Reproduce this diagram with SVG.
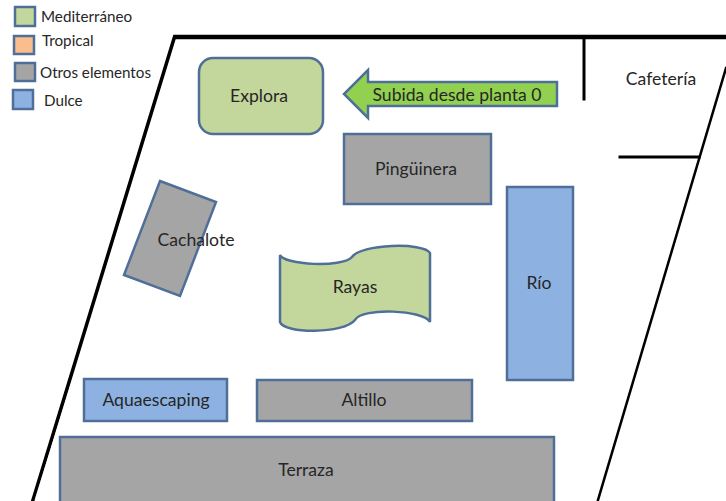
<svg xmlns="http://www.w3.org/2000/svg" width="726" height="501" viewBox="0 0 726 501">
<style>
text{font-family:"Lato","Open Sans","Liberation Sans",sans-serif;font-size:17.6px;fill:#262626;text-anchor:middle}
.l{text-anchor:start;font-size:15.2px}
.s{stroke:#4f6f98;stroke-width:2.5}
.g{fill:#c3d69b}.o{fill:#f9bd8e}.y{fill:#a5a5a5}.b{fill:#8db2e2}
.w{stroke:#000;fill:none;stroke-linecap:square}
</style>
<rect width="726" height="501" fill="#fff"/>
<g id="connectors">
<path class="w" stroke-width="4.5" d="M176 37H726"/>
<path class="w" stroke-width="3.500" d="M174.500 37L33 500"/>
<path d="M71 385L35 500" stroke="#fff" stroke-width=".7" fill="none"/>
<path class="w" stroke-width="2.500" d="M726 68L598 500"/>
<path class="w" stroke-width="3" d="M584 38V99"/>
<path class="w" stroke-width="3" d="M620 157H699"/>
</g>
<g id="legend-mediterraneo"><rect class="s g" x="15" y="7" width="20" height="19"/><text class="l" x="41" y="22">Mediterráneo</text></g>
<g id="legend-tropical"><rect class="s o" x="14" y="36" width="20" height="18"/><text class="l" x="42" y="46">Tropical</text></g>
<g id="legend-otros"><rect class="s y" x="15" y="63" width="20" height="18"/><text class="l" x="40" y="78">Otros elementos</text></g>
<g id="legend-dulce"><rect class="s b" x="13" y="90" width="20" height="19"/><text class="l" x="44" y="106">Dulce</text></g>
<g id="explora"><rect class="s g" x="199" y="58" width="124" height="76" rx="14"/><text x="259" y="102">Explora</text></g>
<g id="subida"><path class="s" style="fill:#92d050" d="M368 70V82H557V106H368V118L344 94Z"/><text x="457" y="101">Subida desde planta 0</text></g>
<g id="cafeteria"><text x="661" y="85">Cafetería</text></g>
<g id="pinguinera"><rect class="s y" x="344" y="134" width="147" height="70"/><text x="416" y="175">Pingüinera</text></g>
<g id="rio"><rect class="s b" x="507" y="187" width="66" height="193"/><text x="539" y="289">Río</text></g>
<g id="cachalote"><path class="s y" d="M160 181L216 202L180 296L124 275Z"/><text x="196" y="246">Cachalote</text></g>
<g id="rayas"><path class="s g" d="M280 255C284 265 342 268 352 257C360 244 424 242 430 253V322C424 310 362 307 355 320C344 334 284 334 280 322Z"/><text x="355" y="293">Rayas</text></g>
<g id="aquaescaping"><rect class="s b" x="84" y="379" width="143" height="42"/><text x="156" y="406">Aquaescaping</text></g>
<g id="altillo"><rect class="s y" x="257" y="380" width="215" height="41"/><text x="364" y="406">Altillo</text></g>
<g id="terraza"><rect class="s y" x="60" y="437" width="494" height="70"/><text x="306" y="476">Terraza</text></g>
</svg>
